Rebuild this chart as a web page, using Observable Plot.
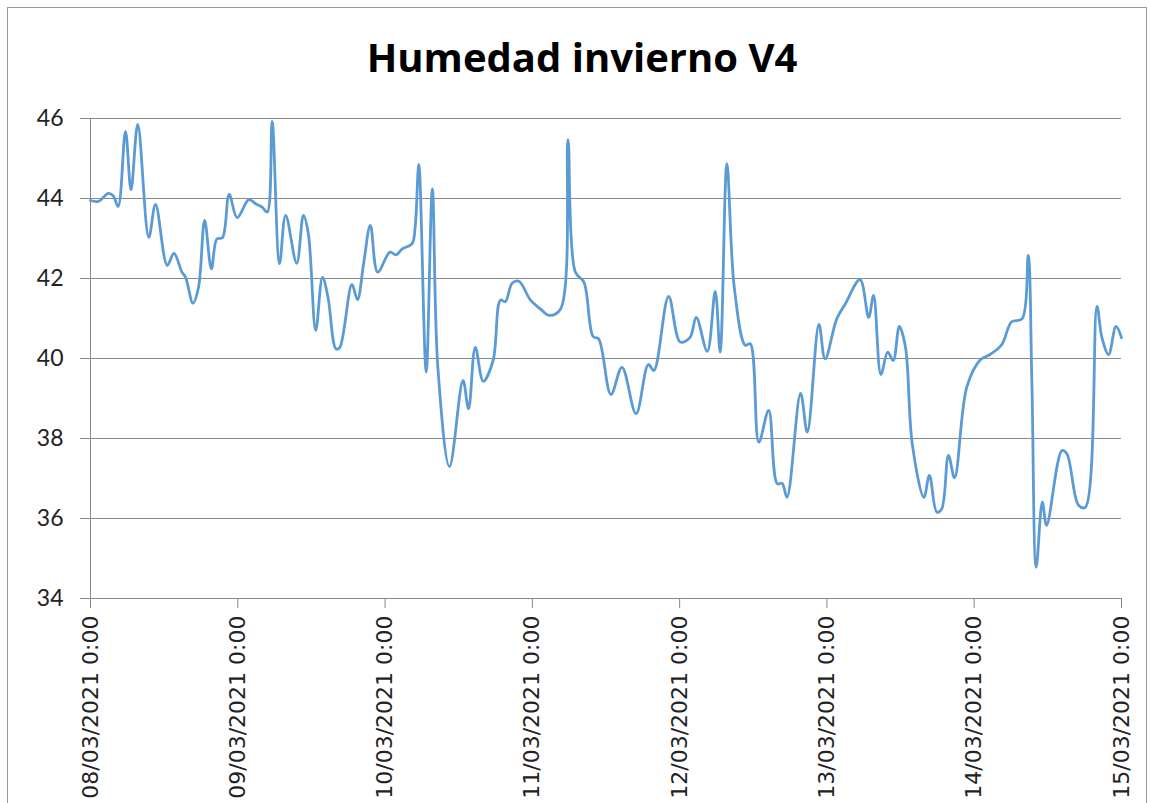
<!DOCTYPE html>
<html>
<head>
<meta charset="utf-8">
<script src="https://cdn.jsdelivr.net/npm/d3@7"></script>
<script src="https://cdn.jsdelivr.net/npm/@observablehq/plot@0.6"></script>
<style>
  html, body { margin: 0; padding: 0; background: #fff; }
  body { width: 1150px; height: 803px; position: relative; overflow: hidden; }
  #frame { position: absolute; left: 7px; top: 7px; width: 1140px; height: 820px; border: 1px solid #9a9a9a; box-sizing: border-box; }
  #title { position: absolute; left: 0; top: 32px; width: 1164px; text-align: center; font-family: "Open Sans", sans-serif; font-weight: 700; font-size: 40px; line-height: 50px; color: #000; }
  #chart { position: absolute; left: 0; top: 0; }
</style>
</head>
<body>
<div id="frame"></div>
<div id="title">Humedad invierno V4</div>
<div id="chart"></div>
<script>
// Hours since 08/03/2021 0:00
const hours = [0, 1.3, 2.9, 3.7, 4.5, 5.7, 6.6, 7.7, 9.5, 10.6, 12.5, 13.6, 14.9, 15.5, 16.7, 17.6, 18.6, 19.7, 20.6, 21.5, 22.6, 23.9,
  25.8, 26.9, 28.0, 28.8, 29.6, 30.8, 31.8, 33.6, 34.7, 35.5, 36.7, 37.8, 38.7, 40.0, 40.6, 42.6, 43.5, 44.5, 45.6, 46.8,
  48.8, 49.8, 50.8, 52.4, 52.9, 53.5, 54.7, 55.7, 56.6, 58.5, 60.7, 61.6, 62.7, 64.0, 65.6, 66.8, 67.6, 68.7, 69.8, 71.7,
  73.3, 74.7, 76.6, 77.8, 79.0, 80.4, 81.9, 82.8, 84.8, 86.6, 88.9, 90.9, 91.8, 94.2, 96.1,
  97.7, 98.7, 100.5, 101.8, 102.6, 103.7, 104.9, 106.7, 107.5, 108.9, 110.5, 111.9, 112.7, 113.5, 115.7, 116.8, 118.7, 119.7,
  121.6, 123.0, 125.4, 126.8, 127.6, 128.8, 129.9, 130.8, 131.8, 132.8, 133.9, 135.8, 136.7, 137.9, 138.7, 139.8, 140.8, 142.8,
  145.0, 146.6, 148.5, 150.1, 151.8, 152.8, 153.4, 154.1, 155.1, 155.8, 158.3, 159.1, 161.0, 162.1, 164.0, 164.8, 165.9, 167.1, 168.0];
const humidity = [43.95, 43.93, 44.13, 44.07, 43.8, 45.68, 44.22, 45.85, 43.03, 43.85, 42.33, 42.63, 42.16, 42.03, 41.38, 41.78, 43.45, 42.24, 42.99, 43.02, 44.1, 43.52,
  43.97, 43.87, 43.78, 43.66, 45.93, 42.37, 43.58, 42.38, 43.58, 43.12, 40.7, 42.03, 41.53, 40.24, 40.27, 41.85, 41.47, 42.37, 43.33, 42.16,
  42.66, 42.59, 42.74, 42.87, 43.28, 44.85, 39.66, 44.24, 39.78, 37.3, 39.45, 38.74, 40.28, 39.43, 39.95, 41.46, 41.42, 41.88, 41.93, 41.46,
  41.24, 41.08, 41.24, 45.47, 42.16, 41.91, 40.55, 40.49, 39.1, 39.78, 38.62, 39.85, 39.7, 41.55, 40.41,
  40.53, 41.03, 40.18, 41.68, 40.16, 44.87, 41.78, 40.33, 40.37, 37.91, 38.7, 36.87, 36.88, 36.53, 39.13, 38.16, 40.85, 39.99,
  40.99, 41.37, 41.97, 41.03, 41.58, 39.6, 40.16, 39.95, 40.8, 40.28, 37.87, 36.53, 37.08, 36.16, 36.24, 37.58, 37.02, 39.29,
  39.97, 40.1, 40.35, 40.92, 40.99, 42.58, 39.37, 34.78, 36.41, 35.83, 37.7, 37.62, 36.33, 36.28, 41.3, 40.53, 40.1, 40.8, 40.52];
const yTicks = [34, 36, 38, 40, 42, 44, 46];
const dayTicks = ["2021-03-08", "2021-03-09", "2021-03-10", "2021-03-11", "2021-03-12", "2021-03-13", "2021-03-14", "2021-03-15"];

const base = Date.UTC(2021, 2, 8);
const data = hours.map((h, i) => ({t: new Date(base + h * 3600e3), v: humidity[i]}));
const ticks = dayTicks.map(s => new Date(s + "T00:00:00Z"));
const fmt = d3.utcFormat("%d/%m/%Y");
const gray = "#898989";

const chart = Plot.plot({
  width: 1150,
  height: 803,
  marginLeft: 90,
  marginRight: 29,
  marginTop: 118,
  marginBottom: 205,
  x: {type: "utc", domain: [ticks[0], ticks[ticks.length - 1]]},
  y: {domain: [34, 46]},
  marks: [
    Plot.gridY(yTicks, {stroke: gray, strokeOpacity: 1, strokeWidth: 1}),
    Plot.axisY(yTicks, {tickSize: 10, tickPadding: 17, stroke: gray, fontSize: 23, fontFamily: "Lato, sans-serif", fill: "#222", label: null}),
    Plot.axisX(ticks, {tickSize: 10, tickPadding: 7, tickRotate: -90, stroke: gray, fontSize: 22, fontFamily: "DejaVu Sans, sans-serif", fill: "#222", label: null, tickFormat: d => fmt(d) + " 0:00"}),
    Plot.ruleX([ticks[0]], {stroke: gray}),
    Plot.ruleY([34], {stroke: gray}),
    Plot.line(data, {x: "t", y: "v", stroke: "#5B9BD5", strokeWidth: 2.8, curve: "catmull-rom"})
  ]
});
document.getElementById("chart").appendChild(chart);
</script>
</body>
</html>
